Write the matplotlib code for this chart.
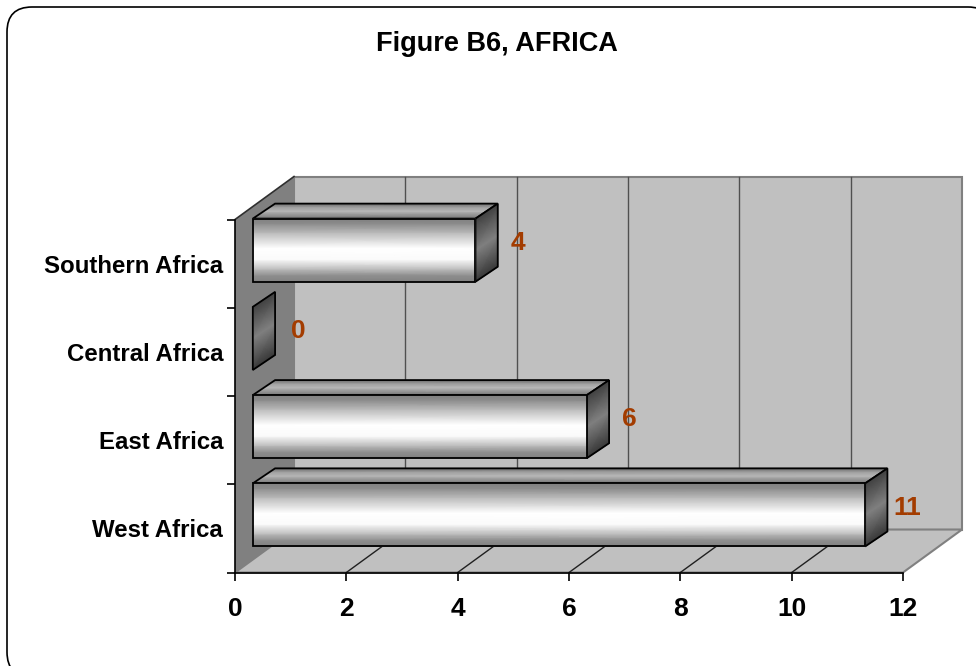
import matplotlib
matplotlib.use("Agg")
import matplotlib.pyplot as plt
from matplotlib.patches import Polygon, FancyBboxPatch
import numpy as np

plt.rcParams["font.family"] = ["Liberation Sans", "DejaVu Sans"]

title = "Figure B6, AFRICA"
regions = ["West Africa", "East Africa", "Central Africa", "Southern Africa"]
counts = [11, 6, 0, 4]
xticks = [0, 2, 4, 6, 8, 10, 12]

W, H = 976, 666
DX, DY = 1.06, 0.487     # wall depth in data units
BAR_X0 = 0.32            # bars start a bit off the side wall
BAR_Y0 = 0.295
BAR_DX, BAR_DY = 0.40, 0.17
BAR_H = 0.715
LABEL_COLOR = "#a33c00"

front_stops = ([0, 0.1, 0.2, 0.35, 0.53, 0.78, 0.92, 1], [0.5, 0.56, 0.74, 0.98, 1.0, 0.72, 0.55, 0.5])
top_stops = ([0, 0.5, 0.8, 1], [0.45, 0.72, 0.6, 0.42])
side_stops = ([0, 0.5, 1], [0.22, 0.5, 0.25])

fig = plt.figure(figsize=(W / 100, H / 100), dpi=100)

# rounded frame, runs past the right and bottom edges of the image
bg = fig.add_axes([0, 0, 1, 1])
bg.set_xlim(0, W)
bg.set_ylim(H, 0)
bg.axis("off")
bg.add_patch(FancyBboxPatch((32, 32), 936, 620, boxstyle="round,pad=25,rounding_size=25",
                            fc="white", ec="black", lw=1.2, clip_on=False))
bg.text(497, 44, title, ha="center", va="center", fontsize=19.5, fontweight="bold")

ax = fig.add_axes([235 / W, (H - 572.5) / H, 668 / W, 353 / H])
ax.set_xlim(0, 12)
ax.set_ylim(0, 4)
ax.patch.set_visible(False)


def face(corners, pos, vals, zorder):
    # corners: bottom-left, bottom-right, top-right, top-left; gradient runs bottom to top
    c = np.array(corners, dtype=float)
    t = np.array(pos)[:, None]
    left = c[0] + (c[3] - c[0]) * t
    right = c[1] + (c[2] - c[1]) * t
    X = np.column_stack([left[:, 0], right[:, 0]])
    Y = np.column_stack([left[:, 1], right[:, 1]])
    Z = np.column_stack([vals, vals])
    ax.pcolormesh(X, Y, Z, shading="gouraud", cmap="gray", vmin=0, vmax=1, zorder=zorder, clip_on=False)
    ax.add_patch(Polygon(c, closed=True, fc="none", ec="black", lw=1.3, zorder=zorder + 0.5, clip_on=False))


# walls and floor
ax.add_patch(Polygon([(DX, DY), (12 + DX, DY), (12 + DX, 4 + DY), (DX, 4 + DY)], fc="#c0c0c0", ec="#808080", lw=1.5, zorder=1, clip_on=False))
ax.add_patch(Polygon([(0, 0), (DX, DY), (DX, 4 + DY), (0, 4)], fc="#808080", ec="none", zorder=1, clip_on=False))
ax.add_patch(Polygon([(0, 0), (DX, DY), (12 + DX, DY), (12, 0)], fc="#c0c0c0", ec="#808080", lw=1.5, zorder=1, clip_on=False))
ax.plot([0, DX], [4, 4 + DY], color="#303030", lw=1.2, zorder=2, clip_on=False)

# gridlines on the back wall and floor
for v in xticks[1:-1]:
    ax.plot([v + DX, v + DX], [DY, 4 + DY], color="#505050", lw=1, zorder=2, clip_on=False)
    ax.plot([v, v + DX], [0, DY], color="#202020", lw=1, zorder=2, clip_on=False)

# bars, back to front
for i in range(len(regions) - 1, -1, -1):
    x0 = BAR_X0
    x1 = BAR_X0 + counts[i]
    y0 = i + BAR_Y0
    y1 = y0 + BAR_H
    z = 10 + (len(regions) - i) * 3
    if counts[i] > 0:
        face([(x0, y1), (x1, y1), (x1 + BAR_DX, y1 + BAR_DY), (x0 + BAR_DX, y1 + BAR_DY)], *top_stops, z)
    face([(x1, y0), (x1 + BAR_DX, y0 + BAR_DY), (x1 + BAR_DX, y1 + BAR_DY), (x1, y1)], *side_stops, z + 1)
    if counts[i] > 0:
        face([(x0, y0), (x1, y0), (x1, y1), (x0, y1)], *front_stops, z + 2)
    gap = 0.36 if counts[i] > 0 else 0.41
    ax.text(x1 + BAR_DX + gap, i + 0.735, str(counts[i]), color=LABEL_COLOR, fontsize=19,
            fontweight="bold", ha="center", va="center", zorder=40, clip_on=False)

# axes
for s in ["top", "right"]:
    ax.spines[s].set_visible(False)
for s in ["left", "bottom"]:
    ax.spines[s].set_color("black")
    ax.spines[s].set_linewidth(1.2)
    ax.spines[s].set_zorder(5)

ax.set_xticks(xticks)
ax.tick_params(axis="x", length=6, width=1.2, color="black", pad=12, labelsize=19)
for lab in ax.get_xticklabels():
    lab.set_fontweight("bold")
ticks = ax.xaxis.get_major_ticks()
ticks[0].tick1line.set_color("#808080")
ticks[-1].tick1line.set_color("#808080")

ax.set_yticks(range(5))
ax.set_yticklabels([])
ax.set_yticks(np.arange(len(regions)) + 0.5, regions, minor=True)
ax.tick_params(axis="y", which="major", length=6, width=1.2, color="black")
ax.tick_params(axis="y", which="minor", length=0, pad=8.6, labelsize=17.3)
for lab in ax.get_yticklabels(minor=True):
    lab.set_fontweight("bold")

fig.savefig("out.png", dpi=100)
